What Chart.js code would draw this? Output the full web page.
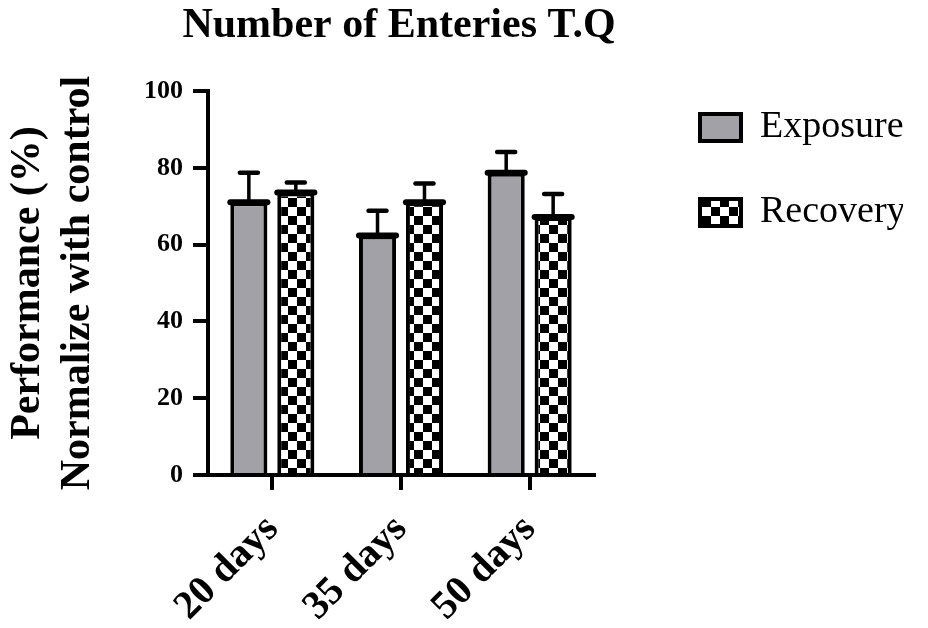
<!DOCTYPE html>
<html>
<head>
<meta charset="utf-8">
<script src="https://cdn.jsdelivr.net/npm/chart.js@4.4.1/dist/chart.umd.min.js"></script>
<style>
  body { margin: 0; background: #fff; }
  #wrap { width: 928px; height: 628px; }
</style>
</head>
<body>
<div id="wrap"><canvas id="chart" width="928" height="628"></canvas></div>
<script>
// Datos del gráfico
const categories = ["20 days", "35 days", "50 days"];
const exposure = [71.0, 62.4, 78.7];
const exposureErr = [7.7, 6.4, 5.4];
const recovery = [73.6, 71.0, 67.2];
const recoveryErr = [2.6, 4.9, 6.0];
const yTicks = [0, 20, 40, 60, 80, 100];

const serif = "'Liberation Serif', 'Times New Roman', serif";

const canvas = document.getElementById("chart");
const ctx = canvas.getContext("2d");

// Patrón de tablero para "Recovery"
function makeChecker(size) {
  const c = document.createElement("canvas");
  c.width = c.height = size * 2;
  const g = c.getContext("2d");
  g.fillStyle = "#fff";
  g.fillRect(0, 0, size * 2, size * 2);
  g.fillStyle = "#000";
  g.fillRect(0, 0, size, size);
  g.fillRect(size, size, size, size);
  return ctx.createPattern(c, "repeat");
}
const checker = makeChecker(9);

// Barras de error (solo hacia arriba) y borde superior grueso
const errorBars = {
  id: "errorBars",
  afterDatasetsDraw(chart) {
    const c = chart.ctx;
    const yScale = chart.scales.y;
    chart.data.datasets.forEach((ds, di) => {
      const meta = chart.getDatasetMeta(di);
      meta.data.forEach((bar, i) => {
        const half = bar.width / 2;
        const top = yScale.getPixelForValue(ds.data[i] + ds.errors[i]);
        c.save();
        c.strokeStyle = "#000";
        c.lineCap = "round";
        c.lineWidth = 3.5;
        c.beginPath();
        c.moveTo(bar.x, bar.y);
        c.lineTo(bar.x, top);
        c.stroke();
        c.lineWidth = 4.5;
        c.beginPath();
        c.moveTo(bar.x - 9, top);
        c.lineTo(bar.x + 9, top);
        c.stroke();
        c.lineWidth = 6;
        c.beginPath();
        c.moveTo(bar.x - half, bar.y);
        c.lineTo(bar.x + half, bar.y);
        c.stroke();
        c.restore();
      });
    });
  },
};

// Colocar leyenda y título
const placeBoxes = {
  id: "placeBoxes",
  afterLayout(chart) {
    const lg = chart.legend;
    lg.left = 653;
    lg.right = lg.left + lg.width;
    lg.top = 61.5;
    const tb = chart.titleBlock;
    tb.left = 99;
    tb.right = 699;
    tb.width = 600;
  },
};

new Chart(ctx, {
  type: "bar",
  data: {
    labels: categories,
    datasets: [
      {
        label: "Exposure",
        data: exposure,
        errors: exposureErr,
        backgroundColor: "#a2a1a7",
        borderColor: "#000",
        borderWidth: 4,
        categoryPercentage: 0.73,
        barPercentage: 0.79,
      },
      {
        label: "Recovery",
        data: recovery,
        errors: recoveryErr,
        backgroundColor: checker,
        borderColor: "#000",
        borderWidth: 4,
        categoryPercentage: 0.73,
        barPercentage: 0.79,
      },
    ],
  },
  options: {
    responsive: false,
    animation: false,
    layout: { padding: { left: 0, right: 84, top: 0, bottom: 0 } },
    plugins: {
      title: {
        display: true,
        text: "Number of Enteries T.Q",
        color: "#000",
        fullSize: false,
        font: { family: serif, size: 42, weight: "bold" },
        padding: { top: 1, bottom: 39.6 },
      },
      legend: {
        position: "right",
        align: "start",
        maxWidth: 250,
        labels: {
          color: "#000",
          boxWidth: 41,
          boxHeight: 27,
          padding: 47,
          font: { family: serif, size: 38 },
        },
      },
      tooltip: { enabled: false },
    },
    scales: {
      x: {
        afterFit(scale) {
          scale.height = 153;
        },
        grid: {
          display: true,
          drawOnChartArea: false,
          drawTicks: true,
          offset: false,
          tickLength: 15,
          lineWidth: 4,
          color: "#000",
        },
        border: { display: true, color: "#000", width: 4 },
        ticks: {
          color: "#000",
          minRotation: 45,
          maxRotation: 45,
          padding: 16,
          font: { family: serif, size: 40, weight: "bold" },
        },
      },
      y: {
        min: 0,
        max: 100,
        afterFit(scale) {
          scale.width = 208;
        },
        afterBuildTicks(scale) {
          scale.ticks = yTicks.map((v) => ({ value: v }));
        },
        title: {
          display: true,
          text: ["Performance (%)", "Normalize with control"],
          color: "#000",
          font: { family: serif, size: 42, weight: "bold" },
          padding: { top: 3, bottom: 0 },
        },
        grid: {
          display: true,
          drawOnChartArea: false,
          drawTicks: true,
          tickLength: 15,
          lineWidth: 4,
          color: "#000",
        },
        border: { display: true, color: "#000", width: 4 },
        ticks: {
          color: "#000",
          padding: 10,
          font: { family: serif, size: 26, weight: "bold" },
        },
      },
    },
  },
  plugins: [errorBars, placeBoxes],
});
</script>
</body>
</html>
